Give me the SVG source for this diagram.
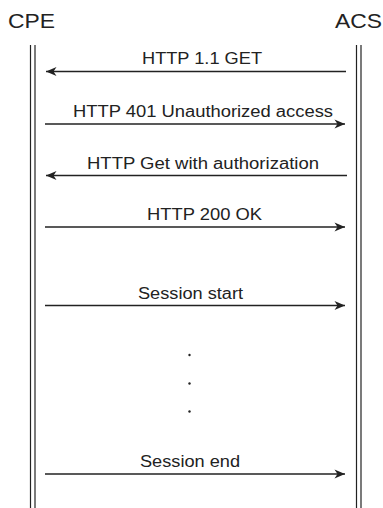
<svg xmlns="http://www.w3.org/2000/svg" width="383" height="508" viewBox="0 0 383 508">
<style>
.t{font-family:"Liberation Sans",Arial,sans-serif;fill:#222;text-anchor:middle}
.h{font-size:21px}
.m{font-size:16px}
.life{stroke:#222;stroke-width:1.2;fill:none}
.msg{stroke:#222;stroke-width:1.3;fill:none;marker-end:url(#arr)}
</style>
<defs>
<marker id="arr" markerUnits="userSpaceOnUse" markerWidth="12" markerHeight="10" viewBox="0 0 12 10" refX="11" refY="5" orient="auto">
<path d="M0.5,0.5 L11,5 L0.5,9.5 L3.5,5 z" fill="#222"/>
</marker>
</defs>
<g id="cpe">
<text class="t h" x="31.5" y="28" textLength="47" lengthAdjust="spacingAndGlyphs">CPE</text>
<line class="life" x1="30.5" y1="45" x2="30.5" y2="508"/>
<line class="life" x1="35" y1="45" x2="35" y2="508"/>
</g>
<g id="acs">
<text class="t h" x="358.5" y="28" textLength="47" lengthAdjust="spacingAndGlyphs">ACS</text>
<line class="life" x1="356.5" y1="45" x2="356.5" y2="508"/>
<line class="life" x1="361" y1="45" x2="361" y2="508"/>
</g>
<g id="connectors">
<line class="msg" x1="346" y1="71.5" x2="46" y2="71.5"/>
<line class="msg" x1="45" y1="124" x2="345" y2="124"/>
<line class="msg" x1="347" y1="175.5" x2="46" y2="175.5"/>
<line class="msg" x1="45" y1="227" x2="345" y2="227"/>
<line class="msg" x1="45" y1="305.5" x2="345" y2="305.5"/>
<line class="msg" x1="45" y1="474" x2="345" y2="474"/>
</g>
<g id="labels">
<text class="t m" x="202" y="64" textLength="120" lengthAdjust="spacingAndGlyphs">HTTP 1.1 GET</text>
<text class="t m" x="203" y="117" textLength="260" lengthAdjust="spacingAndGlyphs">HTTP 401 Unauthorized access</text>
<text class="t m" x="203" y="169" textLength="232" lengthAdjust="spacingAndGlyphs">HTTP Get with authorization</text>
<text class="t m" x="204.5" y="220" textLength="115" lengthAdjust="spacingAndGlyphs">HTTP 200 OK</text>
<text class="t m" x="190.5" y="298.5" textLength="105" lengthAdjust="spacingAndGlyphs">Session start</text>
<text class="t m" x="190" y="467" textLength="100" lengthAdjust="spacingAndGlyphs">Session end</text>
</g>
<g id="ellipsis" fill="#222">
<circle cx="189.5" cy="355" r="1.2"/>
<circle cx="189.5" cy="383.5" r="1.2"/>
<circle cx="189.5" cy="411.5" r="1.2"/>
</g>
</svg>
